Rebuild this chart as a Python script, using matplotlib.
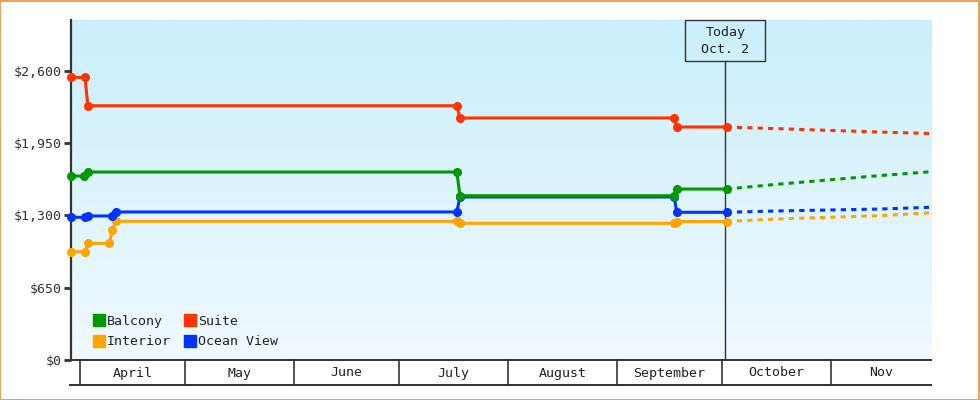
import matplotlib
matplotlib.use("Agg")
import matplotlib.pyplot as plt
import matplotlib.transforms as mtransforms
from matplotlib.lines import Line2D
from matplotlib.patches import Rectangle
import numpy as np

# x values are days counted from April 1
MONTHS = ["April", "May", "June", "July", "August", "September", "October", "Nov"]
MONTH_STARTS = [0, 30, 61, 91, 122, 153, 183, 214, 242.6]
X_RANGE = (-2.6, 242.6)
TODAY = 184
TODAY_TEXT = "Today\nOct. 2"

Y_TICKS = [0, 650, 1300, 1950, 2600]
Y_MAX = 3057

suite_days = [-2.7, 1.4, 2.2, 107.4, 108.3, 169.4, 170.1, 184.3]
suite_vals = [2541, 2541, 2286, 2286, 2176, 2176, 2095, 2095]
suite_fc_days = [184.3, 198.7, 227.5, 242.6]
suite_fc_vals = [2095, 2080, 2050, 2036]

balcony_days = [-2.7, 1.2, 2.2, 107.4, 108.3, 169.4, 170.1, 184.3]
balcony_vals = [1654, 1654, 1690, 1690, 1477, 1477, 1537, 1537]
balcony_fc_days = [184.3, 198.7, 227.5, 242.6]
balcony_fc_vals = [1537, 1580, 1657, 1693]

ocean_days = [-2.7, 1.4, 2.2, 9.2, 10.2, 107.4, 108.3, 169.4, 170.1, 184.3]
ocean_vals = [1283, 1283, 1295, 1295, 1331, 1331, 1466, 1466, 1328, 1328]
ocean_fc_days = [184.3, 198.7, 227.5, 242.6]
ocean_fc_vals = [1328, 1340, 1357, 1373]

interior_days = [-2.7, 1.4, 2.2, 8.35, 9.2, 10.2, 107.4, 108.3, 169.4, 170.1, 184.3]
interior_vals = [974, 974, 1049, 1049, 1169, 1247, 1247, 1229, 1229, 1245, 1245]
interior_fc_days = [184.3, 198.7, 227.5, 242.6]
interior_fc_vals = [1245, 1268, 1297, 1324]

SERIES = [
    ("Interior", "#ffa500", interior_days, interior_vals, interior_fc_days, interior_fc_vals),
    ("Ocean View", "#0033ff", ocean_days, ocean_vals, ocean_fc_days, ocean_fc_vals),
    ("Balcony", "#009900", balcony_days, balcony_vals, balcony_fc_days, balcony_fc_vals),
    ("Suite", "#ff3300", suite_days, suite_vals, suite_fc_days, suite_fc_vals),
]
LEGEND_ORDER = ["Balcony", "Interior", "Suite", "Ocean View"]

INK = "#333333"
plt.rcParams["font.family"] = "DejaVu Sans Mono"
plt.rcParams["font.size"] = 9.5

fig = plt.figure(figsize=(9.8, 4.0), dpi=100)
fig.patch.set_facecolor("white")
ax = fig.add_axes([71 / 980, 40 / 400, 860 / 980, 340 / 400])

# background gradient
grad = np.linspace(0, 1, 256).reshape(-1, 1)
top = np.array([0xCB, 0xEF, 0xFC]) / 255
bottom = np.array([0xF0, 0xF9, 0xFE]) / 255
img = top + (bottom - top) * grad[..., None]
ax.imshow(img, extent=[0, 1, 0, 1], transform=ax.transAxes, aspect="auto", zorder=0)

for name, color, d, v, fd, fv in SERIES:
    ax.plot(fd, fv, color=color, lw=2.2, dashes=(1.7, 1.7), zorder=3)
    ax.plot(d, v, color=color, lw=2.2, marker="o", ms=5.5, zorder=4, clip_on=False)

ax.set_xlim(*X_RANGE)
ax.set_ylim(0, Y_MAX)
ax.set_yticks(Y_TICKS)
ax.set_yticklabels([f"${v:,}" for v in Y_TICKS])
ax.set_xticks([])
ax.tick_params(axis="y", length=5, width=2, color=INK, labelcolor=INK, pad=2)
for side in ["top", "right"]:
    ax.spines[side].set_visible(False)
ax.spines["left"].set_color(INK)
ax.spines["left"].set_linewidth(1.6)
ax.spines["bottom"].set_color(INK)
ax.spines["bottom"].set_linewidth(1.4)

# month band below the plot
trans = mtransforms.blended_transform_factory(ax.transData, ax.transAxes)
band_bottom = -25 / 340
for x in MONTH_STARTS[:-1]:
    ax.add_line(Line2D([x, x], [0, band_bottom], transform=trans, color=INK, lw=1.2, clip_on=False))
ax.add_line(Line2D([X_RANGE[0] - 0.3, X_RANGE[1]], [band_bottom, band_bottom], transform=trans,
                   color=INK, lw=1.4, clip_on=False))
for i, name in enumerate(MONTHS):
    mid = (MONTH_STARTS[i] + MONTH_STARTS[i + 1]) / 2
    ax.text(mid, -13 / 340, name, transform=trans, ha="center", va="center", color="#222222")

# today marker
box_h = 40.5 / 340
ax.add_line(Line2D([TODAY, TODAY], [0, 1 - box_h], transform=trans, color=INK, lw=1.0, zorder=2))
ax.add_patch(Rectangle((TODAY - 40 / 3.508, 1 - box_h), 80 / 3.508, box_h, transform=trans,
                       facecolor="none", edgecolor=INK, lw=1.0, zorder=5, clip_on=False))
ax.text(TODAY, 1 - box_h / 2 - 0.003, TODAY_TEXT, transform=trans, ha="center", va="center",
        color="#222222", linespacing=1.4, zorder=6)

# legend
colors = {name: color for name, color, *_ in SERIES}
handles = [Line2D([], [], ls="none", marker="s", ms=8, color=colors[n], label=n) for n in LEGEND_ORDER]
ax.legend(handles=handles, ncol=2, loc="lower left", bbox_to_anchor=(0.013, 0.0), frameon=False,
          handlelength=0.8, handletextpad=0.2, columnspacing=1.0, labelspacing=0.55,
          borderaxespad=0.5, labelcolor="#222222")

# orange border around the whole image
fig.add_artist(Rectangle((0.0005, 0.001), 0.998, 0.997, transform=fig.transFigure, fill=False,
                         edgecolor="#e8a45c", lw=1.5))

fig.savefig("out.png", dpi=100, facecolor="white")
